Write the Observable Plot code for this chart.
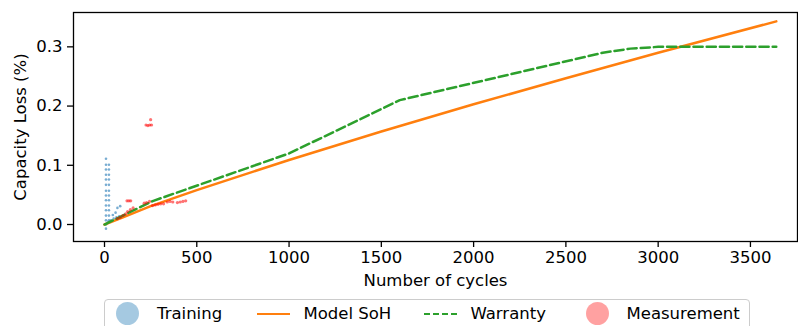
<!DOCTYPE html>
<html>
<head>
<meta charset="utf-8">
<script src="https://cdn.jsdelivr.net/npm/d3@7"></script>
<script src="https://cdn.jsdelivr.net/npm/@observablehq/plot@0.6"></script>
<style>
  html, body { margin: 0; padding: 0; background: white; }
  #wrap { position: relative; width: 798px; height: 326px; overflow: hidden; font-family: "DejaVu Sans", sans-serif; }
  #legend { position: absolute; left: 104px; top: 299px; width: 646px; height: 34px; border: 1px solid #cccccc; border-radius: 4px; background: white; box-sizing: border-box; }
  .lg { position: absolute; font-size: 16.5px; line-height: 20px; top: 304px; color: #000; white-space: nowrap; }
  .circ { position: absolute; width: 23px; height: 23px; border-radius: 50%; top: 302px; }
  .ln { position: absolute; height: 0; top: 313px; width: 33px; }
</style>
</head>
<body>
<div id="wrap"></div>
<script>
// ---- data ----
const xTicks = [0, 500, 1000, 1500, 2000, 2500, 3000, 3500];
const yTicks = [0.0, 0.1, 0.2, 0.3];

const trainCycles = [8, 8, 8, 8, 8, 8, 8, 8, 8, 8, 8, 8, 8, 8, 8,
                     24, 24, 24, 24, 24, 24, 24, 24, 24, 24, 24, 24,
                     45, 60, 70, 85,
                     20, 35, 50, 65, 80];
const trainLoss = [0.111, 0.101, 0.093, 0.084, 0.076, 0.067, 0.057, 0.049, 0.041, 0.032, 0.024, 0.015, 0.007, 0.000, -0.007,
                   0.101, 0.093, 0.084, 0.076, 0.067, 0.057, 0.049, 0.041, 0.032, 0.024, 0.015, 0.007,
                   0.016, 0.020, 0.028, 0.031,
                   0.004, 0.007, 0.010, 0.012, 0.014];

const modelCycles = [0, 100, 250, 500, 1000, 1500, 2000, 2500, 3000, 3640];
const modelLoss = [0.000, 0.012, 0.031, 0.058, 0.109, 0.157, 0.203, 0.247, 0.290, 0.343];

const warrantyCycles = [0, 265, 1000, 1600, 2700, 2850, 3000, 3640];
const warrantyLoss = [0.000, 0.040, 0.120, 0.210, 0.290, 0.297, 0.300, 0.300];

const measCycles = [70, 85, 100, 115, 125, 140, 155, 122, 132, 142, 215, 228, 244, 260, 275, 290, 305, 320, 340, 355, 370, 395, 410, 425, 440, 225, 235, 245, 255, 250];
const measLoss = [0.010, 0.012, 0.015, 0.018, 0.022, 0.025, 0.028, 0.040, 0.040, 0.040, 0.036, 0.037, 0.039, 0.032, 0.033, 0.034, 0.035, 0.035, 0.038, 0.039, 0.038, 0.037, 0.038, 0.039, 0.040, 0.168, 0.167, 0.168, 0.168, 0.177];

const legendLabels = ["Training", "Model SoH", "Warranty", "Measurement"];

// ---- tables ----
const training = trainCycles.map((c, i) => ({c, v: trainLoss[i]}));
const model = modelCycles.map((c, i) => ({c, v: modelLoss[i]}));
const warranty = warrantyCycles.map((c, i) => ({c, v: warrantyLoss[i]}));
const meas = measCycles.map((c, i) => ({c, v: measLoss[i]}));

const FS = 16.5;
const chart = Plot.plot({
  width: 798,
  height: 290,
  marginTop: 12,
  marginRight: 1,
  marginBottom: 49,
  marginLeft: 73,
  style: {fontFamily: "DejaVu Sans", fontSize: FS + "px", color: "#000", background: "white"},
  x: {domain: [-168, 3755], label: null},
  y: {domain: [-0.0287, 0.358], label: null},
  marks: [
    Plot.dot(training, {x: "c", y: "v", r: 1.3, fill: "#1f77b4", fillOpacity: 0.6, stroke: null}),
    Plot.line(model, {x: "c", y: "v", stroke: "#ff7f0e", strokeWidth: 2.5}),
    Plot.line(warranty, {x: "c", y: "v", stroke: "#2ca02c", strokeWidth: 2.5, strokeDasharray: "9.2,4"}),
    Plot.dot(meas, {x: "c", y: "v", r: 1.6, fill: "red", fillOpacity: 0.55, stroke: null}),
    Plot.frame({stroke: "#000", strokeWidth: 1.3}),
    Plot.axisX({ticks: xTicks, tickFormat: d => String(d), tickSize: 6, tickPadding: 4, fontSize: FS, label: null, strokeWidth: 1.3}),
    Plot.axisY({ticks: yTicks, tickFormat: d3.format(".1f"), tickSize: 6, tickPadding: 5, fontSize: FS, label: null, strokeWidth: 1.3}),
    Plot.text(["Number of cycles"], {frameAnchor: "bottom", dy: 39, lineAnchor: "middle", textAnchor: "middle", fontSize: FS, text: d => d}),
    Plot.text(["Capacity Loss (%)"], {frameAnchor: "left", dx: -53, rotate: -90, lineAnchor: "middle", textAnchor: "middle", fontSize: FS, text: d => d})
  ]
});

const wrap = document.getElementById("wrap");
wrap.appendChild(chart);

// ---- legend (HTML, below the SVG) ----
const lg = document.createElement("div");
lg.id = "legend";
wrap.appendChild(lg);

function add(html) { const d = document.createElement("div"); d.innerHTML = html; wrap.appendChild(d.firstChild); }
add(`<div class="circ" style="left:115.5px;background:#1f77b4;opacity:0.4"></div>`);
add(`<div class="lg" style="left:157px">${legendLabels[0]}</div>`);
add(`<div class="ln" style="left:257px;border-top:2.5px solid #ff7f0e"></div>`);
add(`<div class="lg" style="left:303.5px">${legendLabels[1]}</div>`);
add(`<div class="ln" style="left:424px;border-top:2.5px dashed #2ca02c"></div>`);
add(`<div class="lg" style="left:470.5px">${legendLabels[2]}</div>`);
add(`<div class="circ" style="left:585.5px;background:red;opacity:0.37"></div>`);
add(`<div class="lg" style="left:626.5px">${legendLabels[3]}</div>`);
</script>
</body>
</html>
